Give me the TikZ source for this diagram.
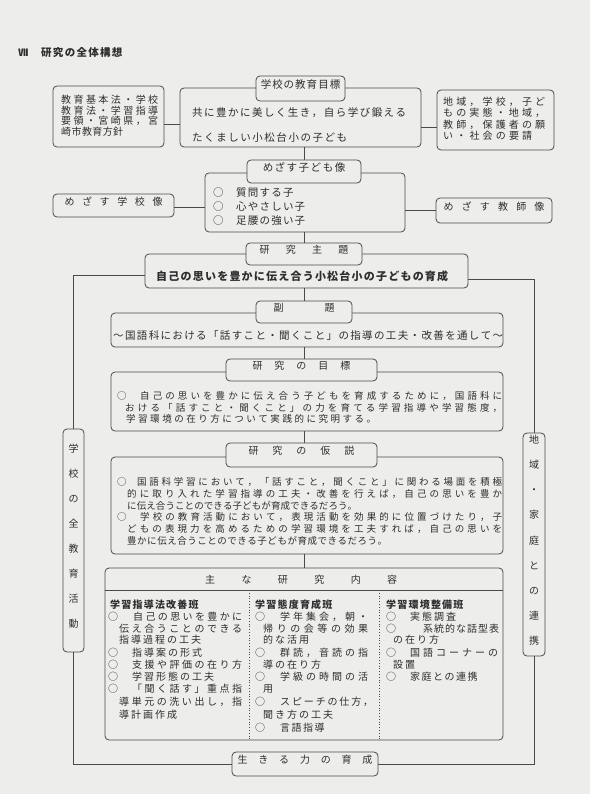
\documentclass[tikz,border=0pt]{standalone}
\usepackage{fontspec}
\newfontfamily\jpf{Noto Sans CJK JP}
\usetikzlibrary{fit}
\makeatletter
\def\sp@iter#1#2{#1\ifx\relax#2\else\hskip\sp@g\relax\expandafter\sp@iter\expandafter#2\fi}
\newcommand\jw[2]{\hbox to #1{\def\sp@g{0pt plus 1fil minus 1.5pt}\sp@iter#2\relax}}
\newcommand\js[2]{\hbox{\def\sp@g{#1}\sp@iter#2\relax}}
\makeatother
\definecolor{bg}{HTML}{EDEDEB}
\definecolor{ln}{HTML}{4A4A4A}
\definecolor{ink}{HTML}{2E2E2E}
\begin{document}
\begin{tikzpicture}[x=1pt,y=-1pt,
 bx/.style={draw=ln, line width=0.8pt, rounded corners=4pt, inner sep=0pt, text=ink, font=\jpf\fontsize{10}{12}\selectfont},
 lab/.style={bx, fill=bg},
 vt/.style={bx, align=center, font=\jpf\fontsize{10}{25.1}\selectfont},
 tx/.style={inner sep=0pt, anchor=west, text=ink, font=\jpf\fontsize{10}{12}\selectfont},
 tp/.style={tx, font=\jpf\fontsize{9.5}{12}\selectfont},
 tm/.style={tx, font=\jpf\fontsize{10.5}{12}\selectfont},
 tbf/.style={tx, font=\jpf\bfseries\fontsize{10}{12}\selectfont},
 cn/.style={draw=ln, line width=0.8pt},
 dv/.style={draw=ln, line width=0.8pt, dotted}]
\useasboundingbox (0,0) rectangle (590,794);
\fill[bg] (0,0) rectangle (590,794);
% title
\node[tx, font=\jpf\bfseries\fontsize{10}{12}\selectfont] (ti1) at (18,53) {Ⅶ};
\node[tx, font=\jpf\bfseries\fontsize{10.5}{12}\selectfont] (ti2) at (41,53) {\js{1.3pt}{研究の全体構想}};
% axis and helper coordinates
\coordinate (ax) at (304,0);
\coordinate (yA) at (0,124);
\coordinate (yB) at (0,127);
\coordinate (yC) at (0,207);
\coordinate (yD) at (0,210);
\coordinate (yL) at (0,275);
\coordinate (yR) at (0,279);
\coordinate (hy) at (0,590);
\coordinate (d1) at (249,0);
\coordinate (d2) at (379,0);
% top row
\node[bx, fit={(53,86) (164,147)}] (lbox) {};
\node[bx, fit={(180,88) (421,147)}] (main) {};
\node[bx, fit={(437,90) (554,150)}] (rbox) {};
\node[lab, font=\jpf\fontsize{10.5}{12}\selectfont, fit={(256,76) (345,101)}] (gl) {\js{1pt}{学校の教育目標}};
\node[tx] (l1) at (61,100) {\jw{97pt}{教育基本法・学校}};
\node[tx] (l2) at (61,110.5) {\jw{97pt}{教育法・学習指導}};
\node[tx] (l3) at (61,121) {\jw{97pt}{要領・宮崎県，宮}};
\node[tx] (l4) at (61,132) {\jw{62pt}{崎市教育方針}};
\node[tx] (r1) at (443,102) {\jw{102pt}{地域，学校，子ど}};
\node[tx] (r2) at (443,113) {\jw{102pt}{もの実態・地域，}};
\node[tx] (r3) at (443,124.5) {\jw{102pt}{教師，保護者の願}};
\node[tx] (r4) at (443,136) {\jw{89pt}{い・社会の要請}};
\node[tm] (m1) at (192,113) {\jw{214pt}{共に豊かに美しく生き，自ら学び鍛える}};
\node[tm] (m2) at (192,138) {\jw{155pt}{たくましい小松台小の子ども}};
\draw[cn] (lbox.east |- yA) -- (main.west |- yA);
\draw[cn] (main.east |- yB) -- (rbox.west |- yB);
% children image
\node[bx, fit={(205,173) (405,232)}] (kbox) {};
\node[bx, fit={(53,194) (174,217)}] (sch) {\js{7.6pt}{めざす学校像}};
\node[bx, fit={(436,198) (552,223)}] (tch) {\js{8.2pt}{めざす教師像}};
\draw[cn] (sch.east |- yC) -- (kbox.west |- yC);
\draw[cn] (kbox.east |- yD) -- (tch.west |- yD);
\draw[cn] (ax |- main.south) -- (ax |- 0,160);
\node[lab, font=\jpf\fontsize{10.5}{12}\selectfont, fit={(247,160) (361,183)}] (kl) {\js{1.5pt}{めざす子ども像}};
\node[tm] (k1c) at (213,193) {○};
\node[tm] (k2c) at (213,207) {○};
\node[tm] (k3c) at (213,220.5) {○};
\node[tm] (k1) at (236,193) {\js{1.2pt}{質問する子}};
\node[tm] (k2) at (236,207) {\js{1.2pt}{心やさしい子}};
\node[tm] (k3) at (236,220.5) {\js{1.2pt}{足腰の強い子}};
% theme
\node[bx, fit={(145,254) (468,288)}] (thb) {};
\draw[cn] (ax |- kbox.south) -- (ax |- 0,243);
\node[lab, fit={(246,243) (362,265)}] (thl) {\js{16.3pt}{研究主題}};
\node[tx, font=\jpf\bfseries\fontsize{11}{12}\selectfont] (th1) at (156,276) {\jw{292pt}{自己の思いを豊かに伝え合う小松台小の子どもの育成}};
% subtitle
\node[bx, fit={(111,313) (503,347)}] (sub) {};
\draw[cn] (ax |- thb.south) -- (ax |- 0,301);
\node[lab, fit={(256,301) (352,323)}] (subl) {\js{41pt}{副題}};
\node[tm] (su1) at (113,336) {\jw{390pt}{〜国語科における「話すこと・聞くこと」の指導の工夫・改善を通して〜}};
% goal
\node[bx, fit={(111,372) (503,431)}] (gb) {};
\draw[cn] (ax |- sub.south) -- (ax |- 0,359);
\node[lab, fit={(226,359) (377,381)}] (gbl) {\js{12pt}{研究の目標}};
\node[tp] (g0) at (117,396) {○};
\node[tp] (g1) at (140,396) {\jw{362pt}{自己の思いを豊かに伝え合う子どもを育成するために，国語科に}};
\node[tp] (g2) at (125,407.5) {\jw{377pt}{おける「話すこと・聞くこと」の力を育てる学習指導や学習態度，}};
\node[tp] (g3) at (126,419) {\jw{250pt}{学習環境の在り方について実践的に究明する。}};
% hypothesis
\node[bx, fit={(111,457) (503,554)}] (hb) {};
\draw[cn] (ax |- gb.south) -- (ax |- 0,443);
\node[lab, fit={(226,443) (377,467)}] (hbl) {\js{14pt}{研究の仮説}};
\node[tp] (h0a) at (117,482) {○};
\node[tp] (h1) at (137,482) {\jw{365pt}{国語科学習において，「話すこと，聞くこと」に関わる場面を積極}};
\node[tp] (h2) at (127,494) {\jw{375pt}{的に取り入れた学習指導の工夫・改善を行えば，自己の思いを豊か}};
\node[tp] (h3) at (127,505.5) {\jw{230pt}{に伝え合うことのできる子どもが育成できるだろう。}};
\node[tp] (h0b) at (117,517) {○};
\node[tp] (h4) at (140,517) {\jw{362pt}{学校の教育活動において，表現活動を効果的に位置づけたり，子}};
\node[tp] (h5) at (127,529) {\jw{375pt}{どもの表現力を高めるための学習環境を工夫すれば，自己の思いを}};
\node[tp] (h6) at (127,541) {\jw{260pt}{豊かに伝え合うことのできる子どもが育成できるだろう。}};
% table
\node[bx, fit={(105,568) (503,740)}] (tbl) {};
\draw[cn] (ax |- hb.south) -- (ax |- tbl.north);
\draw[cn] (tbl.west |- hy) -- (tbl.east |- hy);
\draw[dv] (d1 |- hy) -- (d1 |- tbl.south);
\draw[dv] (d2 |- hy) -- (d2 |- tbl.south);
\node[tx] (hd) at (205,580) {\js{26.4pt}{主な研究内容}};
% column 1
\node[tbf] (c1h) at (110,605) {\js{1.2pt}{学習指導法改善班}};
\node[tx] (c1o1) at (108,617) {○};
\node[tx] (c1a) at (133,617) {\jw{109pt}{自己の思いを豊かに}};
\node[tx] (c1b) at (119,628.5) {\jw{123pt}{伝え合うことのできる}};
\node[tx] (c1c) at (119,640) {\js{2pt}{指導過程の工夫}};
\node[tx] (c1o2) at (108,652.5) {○};
\node[tx] (c1d) at (132,652.5) {\js{2pt}{指導案の形式}};
\node[tx] (c1o3) at (108,665) {○};
\node[tx] (c1e) at (132,665) {\jw{110pt}{支援や評価の在り方}};
\node[tx] (c1o4) at (108,677) {○};
\node[tx] (c1f) at (132,677) {\js{2pt}{学習形態の工夫}};
\node[tx] (c1o5) at (108,689) {○};
\node[tx] (c1g) at (132,689) {\jw{110pt}{「聞く話す」重点指}};
\node[tx] (c1h2) at (119,702) {\jw{123pt}{導単元の洗い出し，指}};
\node[tx] (c1i) at (119,714.5) {\js{2pt}{導計画作成}};
% column 2
\node[tbf] (c2h) at (255,605) {\js{1.2pt}{学習態度育成班}};
\node[tx] (c2o1) at (255,617) {○};
\node[tx] (c2a) at (280,617) {\jw{88pt}{学年集会，朝・}};
\node[tx] (c2b) at (263,628.5) {\jw{105pt}{帰りの会等の効果}};
\node[tx] (c2c) at (263,640) {\js{2pt}{的な活用}};
\node[tx] (c2o2) at (255,652.5) {○};
\node[tx] (c2d) at (280,652.5) {\jw{88pt}{群読，音読の指}};
\node[tx] (c2e) at (263,665) {\js{2pt}{導の在り方}};
\node[tx] (c2o3) at (255,677) {○};
\node[tx] (c2f) at (280,677) {\jw{88pt}{学級の時間の活}};
\node[tx] (c2g) at (263,689) {用};
\node[tx] (c2o4) at (255,702) {○};
\node[tx] (c2i) at (280,702) {\jw{93pt}{スピーチの仕方，}};
\node[tx] (c2j) at (263,715) {\js{2pt}{聞き方の工夫}};
\node[tx] (c2o5) at (255,728) {○};
\node[tx] (c2k) at (280,728) {\js{1.5pt}{言語指導}};
% column 3
\node[tbf] (c3h) at (386,605) {\js{1.2pt}{学習環境整備班}};
\node[tx] (c3o1) at (386,617) {○};
\node[tx] (c3a) at (410,617) {\js{2pt}{実態調査}};
\node[tx] (c3o2) at (386,628.5) {○};
\node[tx] (c3b) at (423,628.5) {\jw{76pt}{系統的な話型表}};
\node[tx] (c3c) at (393,640) {\js{2pt}{の在り方}};
\node[tx] (c3o3) at (386,652.5) {○};
\node[tx] (c3d) at (410,652.5) {\jw{88pt}{国語コーナーの}};
\node[tx] (c3e) at (393,665) {\js{2pt}{設置}};
\node[tx] (c3o4) at (386,677) {○};
\node[tx] (c3f) at (410,677) {\js{1.5pt}{家庭との連携}};
% side boxes
\node[vt, fit={(63,429) (84,652)}] (lt) {学\\校\\の\\全\\教\\育\\活\\動};
\node[vt, fit={(523,433) (545,656)}] (rt) {地\\域\\・\\家\\庭\\と\\の\\連\\携};
\node[lab, fit={(232,752) (378,776)}] (life) {\js{10.8pt}{生きる力の育成}};
\draw[cn] (thb.west |- yL) -| (lt.north);
\draw[cn] (thb.east |- yR) -| (rt.north);
\draw[cn] (lt.south) |- (life.west);
\draw[cn] (rt.south) |- (life.east);
\end{tikzpicture}
\end{document}
